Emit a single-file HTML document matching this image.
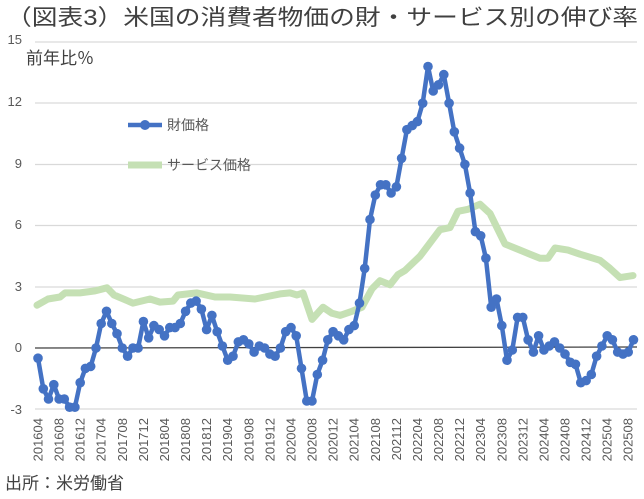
<!DOCTYPE html>
<html><head><meta charset="utf-8"><style>
body{margin:0;background:#fff;width:644px;height:494px;overflow:hidden;font-family:"Liberation Sans","Noto Sans CJK JP",sans-serif}
</style></head><body>
<svg id="s" width="644" height="494" xmlns="http://www.w3.org/2000/svg" font-family="Liberation Sans, Noto Sans CJK JP, sans-serif">
<text x="6" y="25" font-size="22" fill="#404040" textLength="632" lengthAdjust="spacingAndGlyphs">（図表3）米国の消費者物価の財・サービス別の伸び率</text>
<text x="26" y="64" font-size="17" fill="#404040">前年比％</text>
<g stroke="#d9d9d9" stroke-width="1.3">
<line x1="35" x2="637" y1="42" y2="42"/><line x1="35" x2="637" y1="103" y2="103"/><line x1="35" x2="637" y1="164.5" y2="164.5"/><line x1="35" x2="637" y1="225.5" y2="225.5"/><line x1="35" x2="637" y1="287" y2="287"/><line x1="35" x2="637" y1="409" y2="409"/>
</g>
<line x1="35" x2="637" y1="348" y2="347" stroke="#404040" stroke-width="1.3"/>
<g font-size="13" fill="#595959" text-anchor="end">
<text x="22" y="44">15</text><text x="22" y="106">12</text><text x="22" y="168">9</text><text x="22" y="229">6</text><text x="22" y="291">3</text><text x="22" y="352">0</text><text x="22" y="414">-3</text>
</g>
<g id="xl" font-size="13" fill="#595959" text-anchor="end"></g>
<g id="plot"></g>
<line x1="128" x2="162" y1="125" y2="125" stroke="#4472C4" stroke-width="4.5"/>
<circle cx="145" cy="125" r="5" fill="#4472C4"/>
<text x="167" y="130" font-size="14" fill="#595959">財価格</text>
<line x1="128" x2="162" y1="165" y2="165" stroke="#C5E0B4" stroke-width="7"/>
<text x="167" y="170" font-size="14" fill="#595959">サービス価格</text>
<text x="5" y="489" font-size="17" fill="#404040">出所：米労働省</text>
</svg>
<script>
var labs=["201604","201608","201612","201704","201708","201712","201804","201808","201812","201904","201908","201912","202004","202008","202012","202104","202108","202112","202204","202208","202212","202304","202308","202312","202404","202408","202412","202504","202508"];
var xl=document.getElementById('xl'),ns="http://www.w3.org/2000/svg";
labs.forEach(function(l,k){var x=38+21.08*k+4.5;var t=document.createElementNS(ns,'text');t.setAttribute('transform','translate('+x+',418) rotate(-90)');t.textContent=l;xl.appendChild(t);});
function Y(v){return 348-v*20.4;}
var sv=[[37,2.1],[48,2.4],[60,2.5],[65,2.7],[80,2.7],[95,2.8],[107,2.95],[114,2.6],[133,2.2],[150,2.4],[160,2.25],[173,2.3],[178,2.6],[197,2.7],[215,2.5],[230,2.5],[255,2.4],[280,2.65],[290,2.7],[297,2.6],[303,2.7],[312,1.4],[323,2.0],[332,1.7],[340,1.6],[352,1.8],[362,2.0],[372,2.9],[380,3.3],[390,3.1],[398,3.6],[405,3.8],[420,4.5],[440,5.8],[450,5.9],[458,6.7],[468,6.8],[480,7.05],[490,6.6],[505,5.1],[520,4.8],[530,4.6],[540,4.4],[548,4.4],[555,4.9],[568,4.8],[580,4.6],[600,4.3],[610,3.9],[620,3.45],[633,3.55]];
var g=[-0.5,-2,-2.5,-1.8,-2.5,-2.5,-2.9,-2.9,-1.7,-1.0,-0.9,0,1.2,1.8,1.2,0.7,0,-0.4,0,0,1.3,0.5,1.1,0.9,0.6,1.0,1.0,1.2,1.8,2.2,2.3,1.9,0.9,1.6,0.8,0.1,-0.6,-0.4,0.3,0.4,0.2,-0.2,0.1,0.0,-0.3,-0.4,0,0.8,1.0,0.6,-1.0,-2.6,-2.6,-1.3,-0.6,0.4,
0.8,0.6,0.4,0.9,1.1,2.2,3.9,6.3,7.5,8.0,8.0,7.6,7.9,9.3,10.7,10.9,11.1,12.0,13.8,12.6,12.9,13.4,12.0,10.6,9.8,9.0,7.6,5.7,5.5,4.4,2.0,2.4,1.1,-0.6,-0.1,1.5,1.5,0.4,-0.2,0.6,-0.1,0.1,0.3,0.0,-0.3,-0.7,-0.8,-1.7,-1.6,-1.3,-0.4,0.1,0.6,0.4,-0.2,-0.3,-0.2,0.4];
var p=document.getElementById('plot');
var s=sv.map(function(a){return a[0]+','+Y(a[1]).toFixed(1)}).join(' ');
var h='<polyline points="'+s+'" fill="none" stroke="#C5E0B4" stroke-width="7" stroke-linejoin="round" stroke-linecap="round"/>';
var pts=g.map(function(v,i){return (38+5.27*i).toFixed(1)+','+Y(v).toFixed(1)});
h+='<polyline points="'+pts.join(' ')+'" fill="none" stroke="#4472C4" stroke-width="4.5" stroke-linejoin="round"/>';
pts.forEach(function(q){var a=q.split(',');h+='<circle cx="'+a[0]+'" cy="'+a[1]+'" r="4.8" fill="#4472C4"/>';});
p.innerHTML=h;
</script>
</body></html>
